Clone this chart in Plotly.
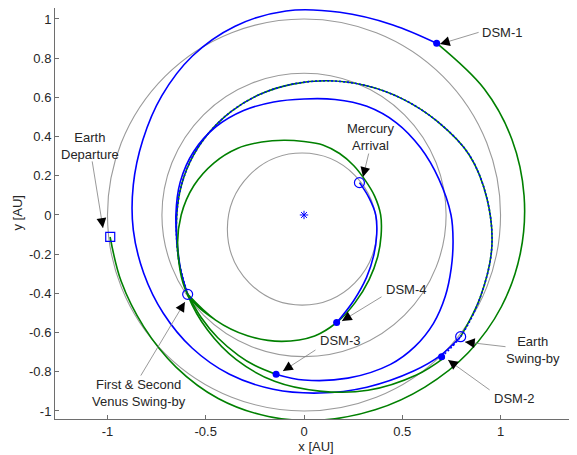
import math
import plotly.graph_objects as go

# ---------------- data (AU) ----------------
# planet orbits: [x_min, x_max, y_min, y_max]
earth_orbit = [-1.0, 1.0, -1.0, 1.0]
venus_orbit = [-0.723, 0.723, -0.723, 0.723]
mercury_orbit = [-0.39, 0.37, -0.46, 0.316]

# trajectory arcs, read as (polar angle in degrees, distance from Sun in AU)
# leg 1: Earth departure -> DSM-1 (green)
g1_theta = [186.5, 200, 215, 230, 245, 260, 275, 290, 305, 320, 335, 350, 365, 380, 395, 412.4]
g1_r = [0.993, 0.99, 0.995, 1.013, 1.033, 1.044, 1.05, 1.058, 1.072, 1.092, 1.108, 1.118, 1.124, 1.126, 1.12, 1.106]

# DSM-1 -> Earth swing-by (blue)
b1_theta = [52.4, 65, 80, 95, 110, 125, 140, 155, 170, 185, 200, 215, 230, 245, 260, 275, 290, 305, 314, 322.1]
b1_r = [1.106, 1.07, 1.05, 1.045, 1.025, 0.99, 0.945, 0.905, 0.882, 0.872, 0.868, 0.874, 0.886, 0.897, 0.903, 0.912, 0.935, 0.972, 0.998, 1.01]

# Earth swing-by -> DSM-2 (green)
g2_theta = [322.1, 335, 350, 365, 380, 395, 410, 425, 440, 455, 470, 485, 500, 515, 530, 545, 560, 575, 590, 605, 620, 635, 650, 665, 674.6]
g2_r = [1.01, 0.99, 0.97, 0.935, 0.895, 0.83, 0.775, 0.73, 0.695, 0.67, 0.655, 0.645, 0.64, 0.64, 0.643, 0.652, 0.678, 0.72, 0.765, 0.815, 0.862, 0.902, 0.952, 0.997, 1.02]

# DSM-2 -> first Venus swing-by (blue)
b2_theta = [314, 322.1, 335, 350, 365, 380, 395, 410, 425, 440, 455, 470, 485, 500, 515, 530, 545, 560, 574.4]
b2_r = [1.006, 1.01, 0.99, 0.97, 0.935, 0.895, 0.83, 0.775, 0.73, 0.695, 0.67, 0.655, 0.645, 0.64, 0.64, 0.643, 0.652, 0.678, 0.717]

# first Venus swing-by -> DSM-3 (green)
g3_theta = [214.4, 225, 235, 245, 252, 259.9]
g3_r = [0.717, 0.74, 0.765, 0.79, 0.808, 0.825]

# DSM-3 -> second Venus swing-by (blue)
b3_theta = [259.9, 270, 285, 300, 310, 320, 330, 340, 350, 360, 375, 390, 405, 420, 435, 450, 465, 480, 495, 510, 525, 540, 555, 565, 574.4]
b3_r = [0.825, 0.842, 0.862, 0.88, 0.877, 0.86, 0.83, 0.797, 0.77, 0.748, 0.71, 0.685, 0.665, 0.64, 0.61, 0.592, 0.597, 0.615, 0.635, 0.648, 0.652, 0.652, 0.665, 0.69, 0.717]

# second Venus swing-by -> DSM-4, a little more than one revolution (green)
g4_theta = [214.4, 230, 245, 260, 275, 286.8, 300, 315, 330, 345, 360, 375, 390, 405, 420, 435, 450, 465, 480, 495, 510, 525, 540, 555, 574.4,
            590, 605, 620, 635, 646.8]
g4_r = [0.717, 0.70, 0.68, 0.655, 0.62, 0.574, 0.518, 0.468, 0.432, 0.406, 0.39, 0.372, 0.358, 0.357, 0.362, 0.37, 0.375, 0.395, 0.43, 0.48, 0.53, 0.58, 0.625, 0.665, 0.717,
        0.70, 0.68, 0.655, 0.62, 0.574]

# DSM-4 -> Mercury arrival (blue)
b4_theta = [286.8, 300, 315, 330, 345, 360, 375, 390.3]
b4_r = [0.574, 0.505, 0.45, 0.41, 0.383, 0.365, 0.342, 0.327]

# events (x, y in AU)
dsm_x = [0.675, 0.70, -0.142, 0.166]
dsm_y = [0.876, -0.723, -0.813, -0.549]
swingby_x = [-0.592, 0.797, 0.282]
swingby_y = [-0.405, -0.621, 0.165]
departure_x = [-0.986]
departure_y = [-0.112]
sun_x = [0.0]
sun_y = [0.0]

# labels: text, text position, arrow tail, arrow head
label_text = ["DSM-1", "Mercury<br>Arrival", "Earth<br>Departure", "First &amp; Second<br>Venus Swing-by",
              "DSM-3", "DSM-4", "Earth<br>Swing-by", "DSM-2"]
label_x = [1.008, 0.336, -1.089, -0.84, 0.183, 0.519, 1.165, 1.069]
label_y = [0.929, 0.398, 0.352, -0.908, -0.643, -0.378, -0.689, -0.934]
tail_x = [0.896, 0.331, -1.079, -0.835, 0.066, 0.402, 1.033, 0.952]
tail_y = [0.934, 0.321, 0.281, -0.827, -0.684, -0.413, -0.673, -0.898]
head_x = [0.692, 0.30, -1.023, -0.606, -0.107, 0.193, 0.819, 0.733]
head_y = [0.872, 0.194, -0.066, -0.444, -0.796, -0.541, -0.648, -0.74]

x_ticks = [-1, -0.5, 0, 0.5, 1]
x_ticktext = ["-1", "-0.5", "0", "0.5", "1"]
y_ticks = [-1, -0.8, -0.6, -0.4, -0.2, 0, 0.2, 0.4, 0.6, 0.8, 1]
y_ticktext = ["-1", "-0.8", "-0.6", "-0.4", "-0.2", "0", "0.2", "0.4", "0.6", "0.8", "1"]

# ---------------- figure ----------------
BLUE = "#0000ff"
GREEN = "#008000"
GRAY = "#9a9a9a"
FONT = "Liberation Sans, Arial, sans-serif"
TXT = "#262626"

fig = go.Figure()

for orb in (earth_orbit, venus_orbit, mercury_orbit):
    fig.add_shape(type="circle", xref="x", yref="y", x0=orb[0], x1=orb[1], y0=orb[2], y1=orb[3],
                  line=dict(color=GRAY, width=1.1), layer="below")


def to_xy(theta, r):
    return ([ri * math.cos(math.radians(t)) for t, ri in zip(theta, r)],
            [ri * math.sin(math.radians(t)) for t, ri in zip(theta, r)])


def arc(theta, r, color, dash="solid", width=1.6):
    xs, ys = to_xy(theta, r)
    fig.add_trace(go.Scatter(x=xs, y=ys, mode="lines",
                             line=dict(color=color, width=width, shape="spline", smoothing=1.0, dash=dash),
                             hoverinfo="skip", showlegend=False))


arc(g1_theta, g1_r, GREEN)
arc(b1_theta, b1_r, BLUE)
arc(g2_theta, g2_r, GREEN)
arc(b2_theta, b2_r, BLUE, dash="2px,2px")
arc(g3_theta, g3_r, GREEN)
arc(b3_theta, b3_r, BLUE)
arc(g4_theta, g4_r, GREEN)
arc(b4_theta, b4_r, BLUE)

fig.add_trace(go.Scatter(x=dsm_x, y=dsm_y, mode="markers",
                         marker=dict(symbol="circle", size=7, color=BLUE), showlegend=False))
fig.add_trace(go.Scatter(x=swingby_x, y=swingby_y, mode="markers",
                         marker=dict(symbol="circle-open", size=10, color=BLUE, line=dict(width=1.2)),
                         showlegend=False))
fig.add_trace(go.Scatter(x=departure_x, y=departure_y, mode="markers",
                         marker=dict(symbol="square-open", size=9, color=BLUE, line=dict(width=1.2)),
                         showlegend=False))
fig.add_trace(go.Scatter(x=sun_x, y=sun_y, mode="markers",
                         marker=dict(symbol="asterisk-open", size=7, color=BLUE, line=dict(width=1)),
                         showlegend=False))

# the page body has an 8 px margin: the figure is sized so the plot area lands where the reference has it
XR = [-1.267, 1.389]
YR = [-1.041, 1.056]
W, H = 569, 447
ML, MR, MT, MB = 47, 0, 0, 36
sx = (W - ML - MR) / (XR[1] - XR[0])
sy = (H - MT - MB) / (YR[1] - YR[0])

anns = []
for t, lx, ly, txx, tyy, hx, hy in zip(label_text, label_x, label_y, tail_x, tail_y, head_x, head_y):
    anns.append(dict(x=lx, y=ly, xref="x", yref="y", text=t, showarrow=False,
                     font=dict(family=FONT, size=13, color=TXT), align="center"))
    anns.append(dict(x=hx, y=hy, xref="x", yref="y", ax=txx, ay=tyy, axref="x", ayref="y",
                     text="", showarrow=True, arrowhead=0, arrowwidth=0.8, arrowcolor="#7f7f7f"))
    dx = (txx - hx) * sx
    dy = -(tyy - hy) * sy
    n = math.hypot(dx, dy)
    anns.append(dict(x=hx, y=hy, xref="x", yref="y", ax=dx / n * 8, ay=dy / n * 8,
                     text="", showarrow=True, arrowhead=2, arrowsize=1.3, arrowwidth=1.5,
                     arrowcolor="#000000"))

# y-axis title placed as rotated text left of the tick labels
anns.append(dict(x=-38 / (W - ML - MR), y=0.5, xref="paper", yref="paper", text="y [AU]",
                 textangle=-90, showarrow=False, xanchor="center", yanchor="middle",
                 font=dict(family=FONT, size=13, color=TXT)))

axis_common = dict(showgrid=False, zeroline=False, showline=True, linecolor="#6e6e6e", linewidth=1,
                   ticks="inside", ticklen=4, tickcolor="#6e6e6e", mirror=False,
                   tickfont=dict(family=FONT, size=13, color=TXT), automargin=False)

fig.update_layout(
    width=W, height=H,
    margin=dict(l=ML, r=MR, t=MT, b=MB),
    paper_bgcolor="white", plot_bgcolor="white",
    showlegend=False,
    annotations=anns,
    xaxis=dict(range=XR, tickvals=x_ticks, ticktext=x_ticktext,
               title=dict(text="x [AU]", font=dict(family=FONT, size=13, color=TXT), standoff=0),
               **axis_common),
    yaxis=dict(range=YR, tickvals=y_ticks, ticktext=y_ticktext, **axis_common),
)

fig.write_html("out.html")
